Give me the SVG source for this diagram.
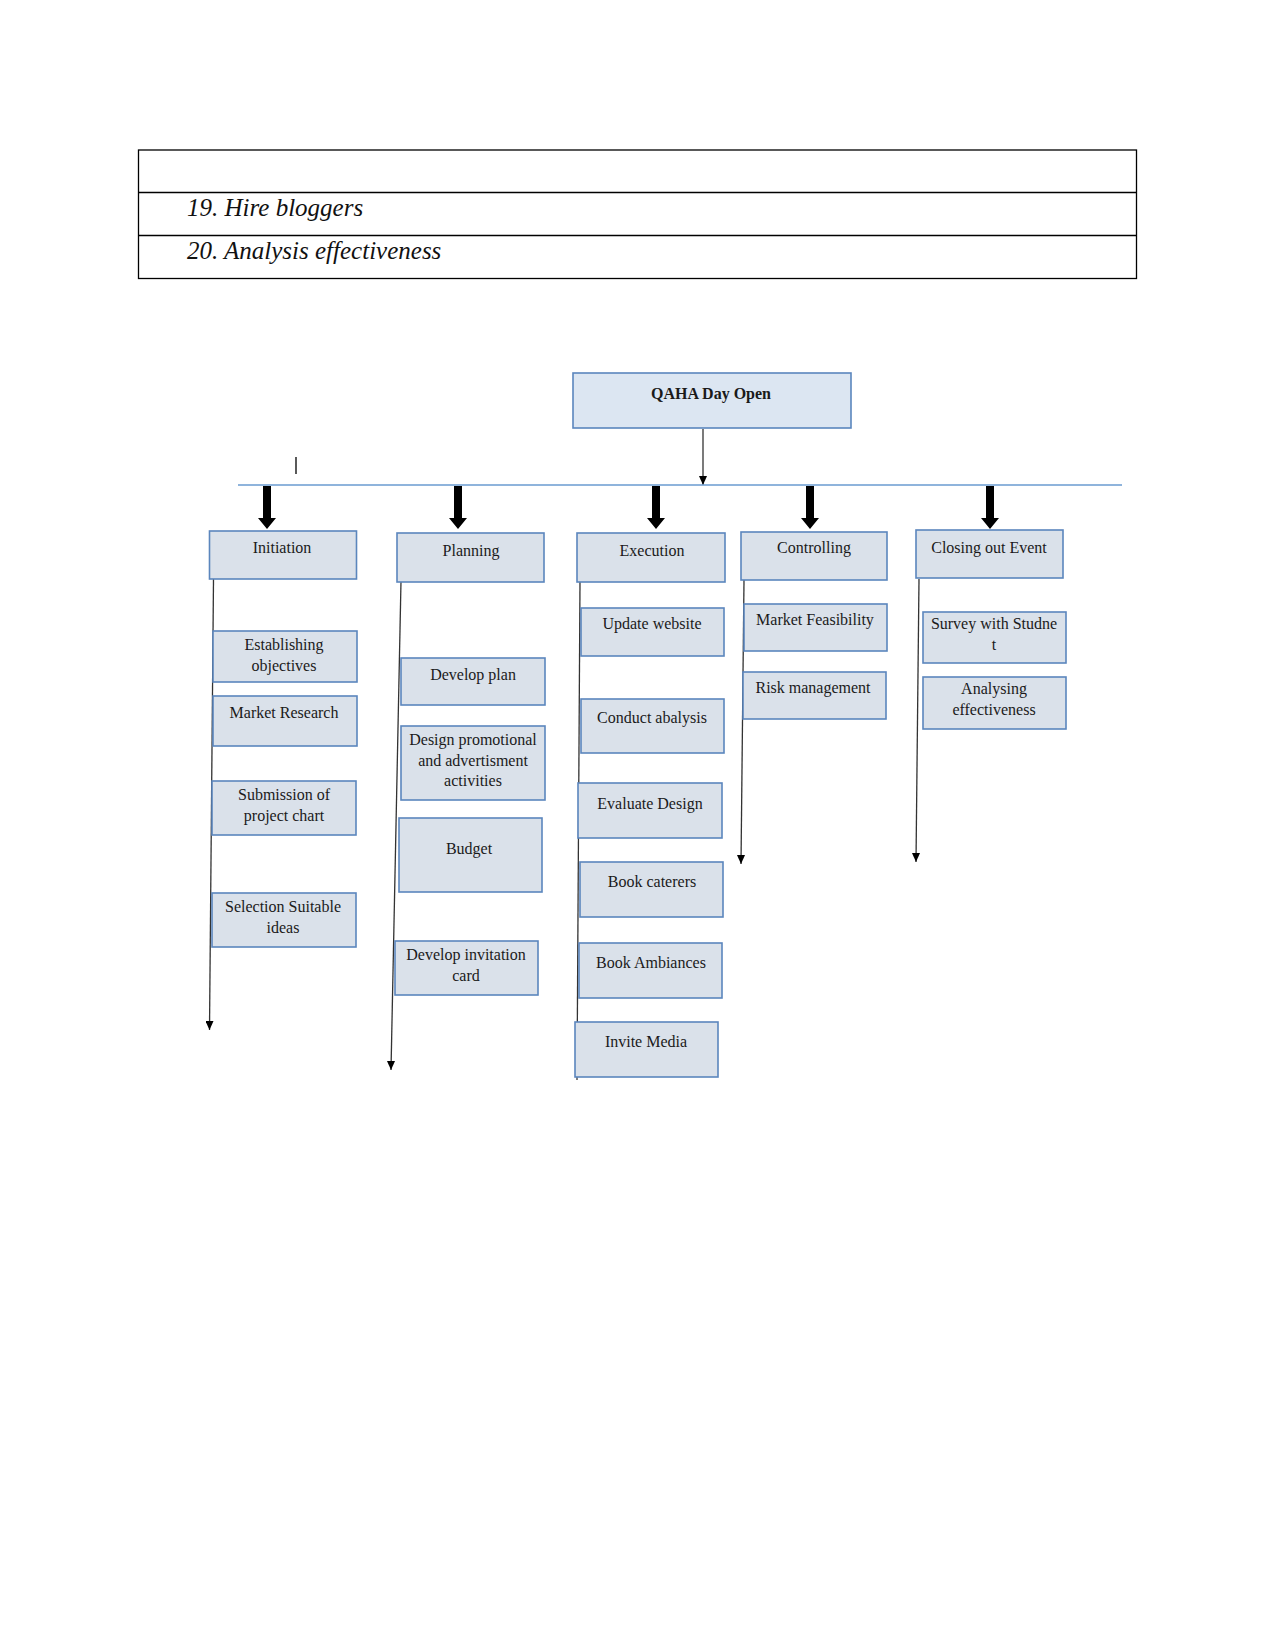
<svg xmlns="http://www.w3.org/2000/svg" width="1275" height="1651" viewBox="0 0 1275 1651">
<style>
.tbl{fill:none;stroke:#000;stroke-width:1.3}
.tt{font-family:"Liberation Serif",serif;font-style:italic;font-size:25px;fill:#111}
.box{fill:#dae1ea;stroke:#5b86bd;stroke-width:1.6}
.top{fill:#dce6f2;stroke:#5b86bd;stroke-width:1.6}
.lb{font-family:"Liberation Serif",serif;font-size:16px;fill:#1a1a1a;text-anchor:middle}
.lbb{font-family:"Liberation Serif",serif;font-size:16px;font-weight:bold;fill:#1a1a1a;text-anchor:middle}
.thin{stroke:#333;stroke-width:1.3;fill:none}
.hl{stroke:#6a9bd0;stroke-width:1.5}
.thick{fill:#000}
</style>
<defs>
<marker id="ah" markerUnits="userSpaceOnUse" markerWidth="8" markerHeight="9" refX="4" refY="9" orient="0" viewBox="0 0 8 9">
<path d="M0,0 L8,0 L4,9 z" fill="#000"/>
</marker>
</defs>
<rect width="1275" height="1651" fill="#fff"/>
<g id="table">
<rect class="tbl" x="138.5" y="150" width="998" height="128.5"/>
<line class="tbl" x1="138.5" y1="192.5" x2="1136.5" y2="192.5"/>
<line class="tbl" x1="138.5" y1="235.5" x2="1136.5" y2="235.5"/>
<text class="tt" x="187" y="216">19. Hire bloggers</text>
<text class="tt" x="187" y="259">20. Analysis effectiveness</text>
</g>
<g id="connectors">
<line class="thin" x1="703" y1="429" x2="703" y2="485" marker-end="url(#ah)"/>
<line class="hl" x1="238" y1="485" x2="1122" y2="485"/>
<line x1="296" y1="457" x2="296" y2="474" stroke="#000" stroke-width="1.3"/>
<polygon class="thick" points="263,486 271,486 271,518 276,518 267,529 258,518 263,518"/>
<polygon class="thick" points="454,486 462,486 462,518 467,518 458,529 449,518 454,518"/>
<polygon class="thick" points="652,486 660,486 660,518 665,518 656,529 647,518 652,518"/>
<polygon class="thick" points="806,486 814,486 814,518 819,518 810,529 801,518 806,518"/>
<polygon class="thick" points="986,486 994,486 994,518 999,518 990,529 981,518 986,518"/>
<line class="thin" x1="213.5" y1="579" x2="209.5" y2="1030" marker-end="url(#ah)"/>
<line class="thin" x1="401" y1="581" x2="391" y2="1070" marker-end="url(#ah)"/>
<line class="thin" x1="580" y1="581" x2="577" y2="1080"/>
<line class="thin" x1="744" y1="580" x2="741" y2="864" marker-end="url(#ah)"/>
<line class="thin" x1="919" y1="579" x2="916" y2="862" marker-end="url(#ah)"/>
</g>
<g id="n-root"><rect class="top" x="573" y="373" width="278" height="55"/><text class="lbb" x="711" y="399">QAHA Day Open</text></g>
<g id="n-initiation"><rect class="box" x="209.5" y="531" width="147" height="48"/><text class="lb" x="282" y="553">Initiation</text></g>
<g id="n-planning"><rect class="box" x="397" y="533" width="147" height="49"/><text class="lb" x="471" y="556">Planning</text></g>
<g id="n-execution"><rect class="box" x="577" y="533" width="148" height="49"/><text class="lb" x="652" y="556">Execution</text></g>
<g id="n-controlling"><rect class="box" x="741" y="532" width="146" height="48"/><text class="lb" x="814" y="553">Controlling</text></g>
<g id="n-closing"><rect class="box" x="916" y="530" width="147" height="48"/><text class="lb" x="989" y="553">Closing out Event</text></g>
<g id="n-establishing"><rect class="box" x="213" y="631" width="144" height="51"/><text class="lb" x="284" y="650">Establishing</text><text class="lb" x="284" y="671">objectives</text></g>
<g id="n-market-research"><rect class="box" x="213" y="696" width="144" height="50"/><text class="lb" x="284" y="718">Market Research</text></g>
<g id="n-submission"><rect class="box" x="212" y="781" width="144" height="54"/><text class="lb" x="284" y="800">Submission of</text><text class="lb" x="284" y="821">project chart</text></g>
<g id="n-selection"><rect class="box" x="212" y="893" width="144" height="54"/><text class="lb" x="283" y="912">Selection Suitable</text><text class="lb" x="283" y="933">ideas</text></g>
<g id="n-develop-plan"><rect class="box" x="401" y="658" width="144" height="47"/><text class="lb" x="473" y="680">Develop plan</text></g>
<g id="n-design"><rect class="box" x="401" y="726" width="144" height="74"/><text class="lb" x="473" y="745">Design promotional</text><text class="lb" x="473" y="766">and advertisment</text><text class="lb" x="473" y="786">activities</text></g>
<g id="n-budget"><rect class="box" x="399" y="818" width="143" height="74"/><text class="lb" x="469" y="854">Budget</text></g>
<g id="n-invitation"><rect class="box" x="395" y="941" width="143" height="54"/><text class="lb" x="466" y="960">Develop invitation</text><text class="lb" x="466" y="981">card</text></g>
<g id="n-update"><rect class="box" x="581" y="608" width="143" height="48"/><text class="lb" x="652" y="629">Update website</text></g>
<g id="n-conduct"><rect class="box" x="581" y="699" width="143" height="54"/><text class="lb" x="652" y="723">Conduct abalysis</text></g>
<g id="n-evaluate"><rect class="box" x="578" y="783" width="144" height="55"/><text class="lb" x="650" y="809">Evaluate Design</text></g>
<g id="n-caterers"><rect class="box" x="580" y="862" width="143" height="55"/><text class="lb" x="652" y="887">Book caterers</text></g>
<g id="n-ambiances"><rect class="box" x="579" y="943" width="143" height="55"/><text class="lb" x="651" y="968">Book Ambiances</text></g>
<g id="n-media"><rect class="box" x="575" y="1022" width="143" height="55"/><text class="lb" x="646" y="1047">Invite Media</text></g>
<g id="n-feasibility"><rect class="box" x="744" y="604" width="143" height="47"/><text class="lb" x="815" y="625">Market Feasibility</text></g>
<g id="n-risk"><rect class="box" x="743" y="672" width="143" height="47"/><text class="lb" x="813" y="693">Risk management</text></g>
<g id="n-survey"><rect class="box" x="923" y="612" width="143" height="51"/><text class="lb" x="994" y="629">Survey with Studne</text><text class="lb" x="994" y="650">t</text></g>
<g id="n-analysing"><rect class="box" x="923" y="677" width="143" height="52"/><text class="lb" x="994" y="694">Analysing</text><text class="lb" x="994" y="715">effectiveness</text></g>
</svg>
